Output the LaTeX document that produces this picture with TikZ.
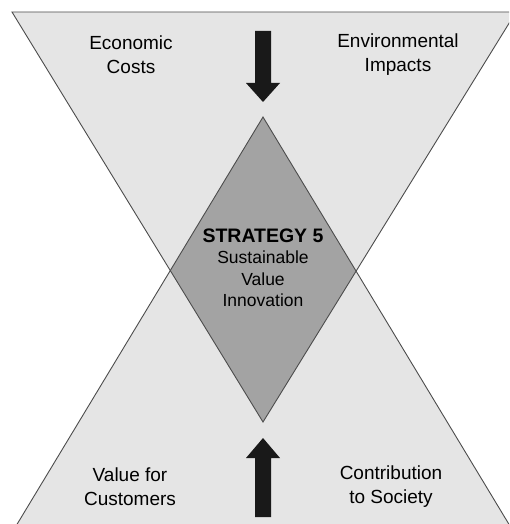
\documentclass[tikz,border=0pt]{standalone}
\usepackage{fontspec}
\setmainfont{Liberation Sans}

\begin{document}
\begin{tikzpicture}[x=1pt,y=-1pt,
  lbl/.style={align=center,inner sep=0pt,font=\fontsize{19}{24}\selectfont},
  edge/.style={line width=0.9pt,draw=black!70}]
  \useasboundingbox (0,0) rectangle (509,524);
  \clip (0,0) rectangle (509,524);
  % 上下两个三角形（沙漏形），交叠部分为菱形
  \def\toptri{(12,12) -- (516,12) -- (263,422) -- cycle}
  \def\bottri{(263,117) -- (16,526) -- (510,526) -- cycle}
  \fill[gray!20] \toptri;
  \fill[gray!20] \bottri;
  % 交叠的菱形（深灰）
  \begin{scope}
    \clip \toptri;
    \fill[black!36] \bottri;
  \end{scope}
  % 边界线
  \draw[edge] \toptri;
  \draw[edge] \bottri;
  % 粗箭头：上方向下，下方向上
  \fill[black!90] (255,31) -- (271,31) -- (271,83) -- (280,83) -- (263,102)
                  -- (246,83) -- (255,83) -- cycle;
  \fill[black!90] (255,517) -- (271,517) -- (271,458) -- (280,458) -- (263,438)
                  -- (246,458) -- (255,458) -- cycle;
  % 标注
  \node[lbl] (econ) at (131,55) {Economic\\Costs};
  \node[lbl] (env) at (398,55) {Environmental\\Impacts};
  \node[lbl] (cust) at (130,487) {Value for\\Customers};
  \node[lbl] (soc) at (391,487) {Contribution\\to Society};
  \node[align=center,inner sep=0pt,font=\fontsize{17.5}{21.5}\selectfont]
    (strat) at (263,268) {\textbf{\fontsize{19.5}{22}\selectfont STRATEGY 5}\\Sustainable\\Value\\Innovation};
\end{tikzpicture}
\end{document}
